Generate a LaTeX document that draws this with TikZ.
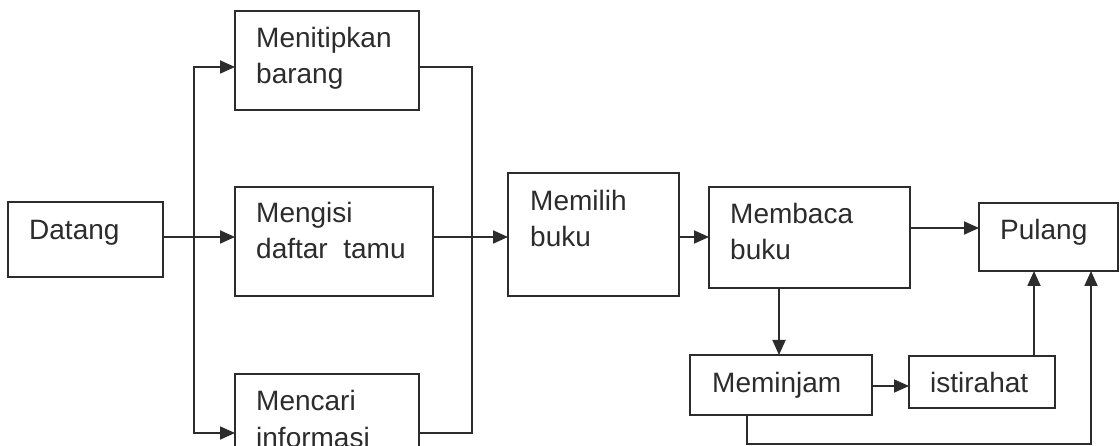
\documentclass[tikz,border=0pt]{standalone}
\usepackage{fontspec}
\setmainfont{Liberation Sans}
\usetikzlibrary{arrows.meta}
\definecolor{ink}{HTML}{2C2C2C}
% two stacked lines whose baseline is the first line
\newcommand{\duabaris}[2]{\vtop{\hbox{#1}\hbox{#2}}}
\begin{document}
\begin{tikzpicture}[x=1pt,y=-1pt,
  kotak/.style={draw=ink, line width=1.8pt, inner sep=0pt, outer sep=0pt, anchor=north west},
  teks/.style={inner sep=0pt, anchor=base west, text=ink,
    font=\fontsize{28}{36}\selectfont},
  panah/.style={draw=ink, line width=1.8pt, -{Triangle[length=15pt,width=13pt]}},
  garis/.style={draw=ink, line width=1.8pt}]
\useasboundingbox (0,0) rectangle (1120,446);
\fill[white] (0,0) rectangle (1120,446);

% boxes
\node[kotak, minimum width=155pt, minimum height=75pt]  (datang)  at (8,202)   {};
\node[kotak, minimum width=184pt, minimum height=99pt]  (titip)   at (235,11)  {};
\node[kotak, minimum width=198pt, minimum height=109pt] (isi)     at (235,187) {};
\node[kotak, minimum width=184pt, minimum height=100pt] (cari)    at (235,374) {};
\node[kotak, minimum width=171pt, minimum height=123pt] (pilih)   at (508,173) {};
\node[kotak, minimum width=201pt, minimum height=101pt] (baca)    at (709,187) {};
\node[kotak, minimum width=139pt, minimum height=68pt]  (pulang)  at (979,203) {};
\node[kotak, minimum width=182pt, minimum height=60pt]  (pinjam)  at (690,355) {};
\node[kotak, minimum width=146pt, minimum height=52pt]  (istirahat) at (909,356) {};

% labels
\node[teks] (tdatang) at (29,240)  {Datang};
\node[teks] (ttitip)  at (256,48)  {\duabaris{Menitipkan}{barang}};
\node[teks] (tisi)    at (256,223) {\duabaris{Mengisi}{daftar\ \ tamu}};
\node[teks] (tcari)   at (256,411) {\duabaris{Mencari}{informasi}};
\node[teks] (tpilih)  at (530,211) {\duabaris{Memilih}{buku}};
\node[teks] (tbaca)   at (730,224) {\duabaris{Membaca}{buku}};
\node[teks] (tpulang) at (1000,240) {Pulang};
\node[teks] (tpinjam) at (712,393) {Meminjam};
\node[teks] (tistirahat) at (930,392) {istirahat};

% branch points
\coordinate (busKiri)  at (194,237);
\coordinate (busKanan) at (472,237);

% from Datang to the three parallel steps
\draw[garis] (datang.east |- busKiri) -- (busKiri);
\draw[panah] (busKiri) -- (isi.west |- busKiri);
\draw[panah] (busKiri) -- (busKiri |- 0,67) -- (titip.west |- 0,67);
\draw[panah] (busKiri) -- (busKiri |- 0,433) -- (cari.west |- 0,433);

% collecting the three steps towards Memilih buku
\draw[garis] (titip.east |- 0,67) -- (busKanan |- 0,67) -- (busKanan |- 0,433) -- (cari.east |- 0,433);
\draw[panah] (isi.east |- busKiri) -- (pilih.west |- busKiri);

\draw[panah] (pilih.east |- busKiri) -- (baca.west |- busKiri);
\draw[panah] (baca.east |- 0,228) -- (pulang.west |- 0,228);
\draw[panah] (baca.south -| 779,0) -- (pinjam.north -| 779,0);
\draw[panah] (pinjam.east |- 0,386) -- (istirahat.west |- 0,386);
\draw[panah] (istirahat.north -| 1034,0) -- (pulang.south -| 1034,0);
\draw[panah] (pinjam.south -| 747,0) -- (747,444) -- (1091,444) -- (pulang.south -| 1091,0);
\end{tikzpicture}
\end{document}
